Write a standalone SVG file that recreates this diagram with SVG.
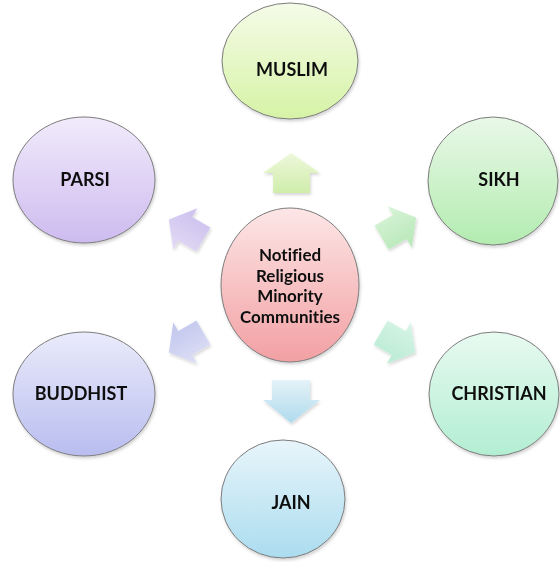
<svg xmlns="http://www.w3.org/2000/svg" width="560" height="562" viewBox="0 0 560 562">
<style>
.node ellipse{stroke:#7c7c7c;stroke-width:1}
.lbl{font-family:Lato,"Open Sans","Liberation Sans",sans-serif;font-weight:700;font-size:18px;fill:#111;text-anchor:middle;font-variant-ligatures:none}
.cl{font-size:17px}
.arr{stroke:none;opacity:0.9}
</style>
<defs>
<filter id="sh" x="-10%" y="-10%" width="130%" height="130%"><feDropShadow dx="1" dy="2" stdDeviation="1.5" flood-color="#000" flood-opacity="0.18"/></filter>
<linearGradient id="gMus" x1="0" y1="0" x2="0" y2="1"><stop offset="0" stop-color="#f5fbe8"/><stop offset="1" stop-color="#d6f3a6"/></linearGradient>
<linearGradient id="gSik" x1="0" y1="0" x2="0" y2="1"><stop offset="0" stop-color="#e9f8e8"/><stop offset="1" stop-color="#b3ecb0"/></linearGradient>
<linearGradient id="gChr" x1="0" y1="0" x2="0" y2="1"><stop offset="0" stop-color="#e8faf1"/><stop offset="1" stop-color="#b2eed2"/></linearGradient>
<linearGradient id="gJai" x1="0" y1="0" x2="0" y2="1"><stop offset="0" stop-color="#e8f5fb"/><stop offset="1" stop-color="#abdcef"/></linearGradient>
<linearGradient id="gBud" x1="0" y1="0" x2="0" y2="1"><stop offset="0" stop-color="#eaebfb"/><stop offset="1" stop-color="#b9bdef"/></linearGradient>
<linearGradient id="gPar" x1="0" y1="0" x2="0" y2="1"><stop offset="0" stop-color="#f1ebfb"/><stop offset="1" stop-color="#cdbbef"/></linearGradient>
<linearGradient id="gCen" x1="0" y1="0" x2="0" y2="1"><stop offset="0" stop-color="#fde6e6"/><stop offset="1" stop-color="#f2a0a3"/></linearGradient>
<linearGradient id="aMus" x1="0" y1="0" x2="0" y2="1"><stop offset="0" stop-color="#eef9d8"/><stop offset="1" stop-color="#cdeea6"/></linearGradient>
<linearGradient id="aSik" x1="0" y1="0" x2="0" y2="1"><stop offset="0" stop-color="#d6f4d6"/><stop offset="1" stop-color="#b2e8b2"/></linearGradient>
<linearGradient id="aChr" x1="0" y1="0" x2="0" y2="1"><stop offset="0" stop-color="#d6f5e6"/><stop offset="1" stop-color="#b4ecd2"/></linearGradient>
<linearGradient id="aJai" x1="0" y1="0" x2="0" y2="1"><stop offset="0" stop-color="#e4f3fa"/><stop offset="1" stop-color="#a9daee"/></linearGradient>
<linearGradient id="aBud" x1="0" y1="0" x2="0" y2="1"><stop offset="0" stop-color="#dcdff6"/><stop offset="1" stop-color="#bcc1ee"/></linearGradient>
<linearGradient id="aPar" x1="0" y1="0" x2="0" y2="1"><stop offset="0" stop-color="#e2d9f6"/><stop offset="1" stop-color="#c8bbee"/></linearGradient>
<polygon id="diag" points="-19,-14 2,-14 2,-24 21,0 2,24 2,14 -19,14"/>
</defs>
<rect width="560" height="562" fill="#ffffff"/>
<g id="connectors" filter="url(#sh)">
<polygon class="arr" fill="url(#aMus)" points="291,153 320,173 310,173 310,193 273,193 273,173 263,173"/>
<polygon class="arr" fill="url(#aJai)" points="272,380 310,380 310,400 320,400 291,423 263,400 272,400"/>
<use href="#diag" class="arr" fill="url(#aSik)" transform="translate(398,228) rotate(-30)"/>
<use href="#diag" class="arr" fill="url(#aChr)" transform="translate(397,342) rotate(30)"/>
<use href="#diag" class="arr" fill="url(#aBud)" transform="translate(187,342) rotate(150)"/>
<use href="#diag" class="arr" fill="url(#aPar)" transform="translate(187,230) rotate(-150)"/>
</g>
<g id="center" class="node" filter="url(#sh)">
<ellipse cx="290" cy="285" rx="69" ry="77" fill="url(#gCen)"/>
<text class="lbl cl" x="290" y="261">Notified</text>
<text class="lbl cl" x="290" y="281.5">Religious</text>
<text class="lbl cl" x="290" y="302">Minority</text>
<text class="lbl cl" x="290" y="322.5">Communities</text>
</g>
<g id="muslim" class="node" filter="url(#sh)">
<ellipse cx="290" cy="61" rx="68" ry="58" fill="url(#gMus)"/>
<text class="lbl" x="292" y="76">MUSLIM</text>
</g>
<g id="sikh" class="node" filter="url(#sh)">
<ellipse cx="493" cy="181" rx="65" ry="64" fill="url(#gSik)"/>
<text class="lbl" x="499" y="186">SIKH</text>
</g>
<g id="christian" class="node" filter="url(#sh)">
<ellipse cx="494" cy="394" rx="65" ry="62" fill="url(#gChr)"/>
<text class="lbl" x="499" y="400">CHRISTIAN</text>
</g>
<g id="jain" class="node" filter="url(#sh)">
<ellipse cx="283" cy="499" rx="62" ry="59" fill="url(#gJai)"/>
<text class="lbl" x="291" y="509">JAIN</text>
</g>
<g id="buddhist" class="node" filter="url(#sh)">
<ellipse cx="84" cy="394" rx="71" ry="62" fill="url(#gBud)"/>
<text class="lbl" x="81" y="400">BUDDHIST</text>
</g>
<g id="parsi" class="node" filter="url(#sh)">
<ellipse cx="84" cy="180" rx="71" ry="63" fill="url(#gPar)"/>
<text class="lbl" x="85" y="186">PARSI</text>
</g>
</svg>
